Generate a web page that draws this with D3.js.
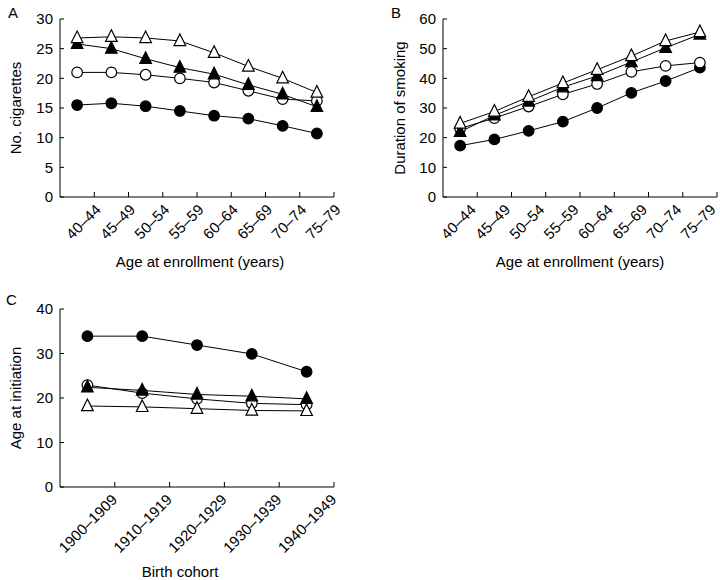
<!DOCTYPE html>
<html><head><meta charset="utf-8">
<script src="https://cdn.jsdelivr.net/npm/d3@7"></script>
<style>body{margin:0;background:#fff}svg{display:block;font-family:"Liberation Sans",Arial,sans-serif}</style>
</head><body><svg id="c" width="720" height="580"></svg>
<script>
const ageGroups = ["40–44","45–49","50–54","55–59","60–64","65–69","70–74","75–79"];
const cohorts = ["1900–1909","1910–1919","1920–1929","1930–1939","1940–1949"];
// series: filled circle, open circle, filled triangle, open triangle
const cigFilledCircle = [15.5,15.8,15.3,14.5,13.7,13.2,12.0,10.7];
const cigOpenCircle   = [21.0,21.0,20.6,20.0,19.3,17.9,16.5,16.2];
const cigFilledTri    = [25.8,25.0,23.3,21.8,20.7,18.9,17.3,15.2];
const cigOpenTri      = [26.8,27.0,26.8,26.3,24.3,22.0,20.0,17.6];
const durFilledCircle = [17.3,19.4,22.3,25.4,30.0,35.1,39.1,43.6];
const durOpenCircle   = [23.1,26.6,30.5,34.6,38.1,42.2,44.2,45.3];
const durFilledTri    = [22.0,27.5,32.2,37.0,40.8,45.5,50.3,54.8];
const durOpenTri      = [24.8,28.8,33.8,38.4,42.9,47.5,52.6,55.6];
const iniFilledCircle = [33.9,33.9,31.9,29.9,25.9];
const iniOpenCircle   = [22.9,21.1,19.8,18.8,18.5];
const iniFilledTri    = [22.4,21.7,20.8,20.4,19.8];
const iniOpenTri      = [18.2,18.0,17.6,17.2,17.1];
const yTicksA = [0,5,10,15,20,25,30];
const yTicksB = [0,10,20,30,40,50,60];
const yTicksC = [0,10,20,30,40];

const svg = d3.select("#c");
const FS = 15;

function panel(o){
  const g = svg.append("g");
  const x = d3.scaleBand().domain(o.cats).range([o.x0,o.x1]);
  const y = d3.scaleLinear().domain([0,o.ymax]).range([o.yb,o.yt]);
  g.append("line").attr("x1",o.x0).attr("x2",o.x0).attr("y1",o.yt).attr("y2",o.yb).attr("stroke","#000");
  g.append("line").attr("x1",o.x0).attr("x2",o.x1).attr("y1",o.yb).attr("y2",o.yb).attr("stroke","#000");
  o.yticks.forEach(t=>{
    g.append("line").attr("x1",o.x0).attr("x2",o.x0+4).attr("y1",y(t)).attr("y2",y(t)).attr("stroke","#000");
    g.append("text").attr("x",o.x0-7).attr("y",y(t)).attr("dy","0.35em").attr("text-anchor","end")
      .attr("font-size",FS).text(t);
  });
  o.cats.forEach(c=>{
    const xb = x(c)+x.bandwidth();
    g.append("line").attr("x1",xb).attr("x2",xb).attr("y1",o.yb).attr("y2",o.yb-5).attr("stroke","#000");
    const xc = x(c)+x.bandwidth()/2+o.lblOff;
    g.append("text").attr("transform",`translate(${xc},${o.yb+10}) rotate(-45)`)
      .attr("text-anchor","end").attr("dy","0.35em").attr("font-size",FS).text(c);
  });
  g.append("text").attr("transform",`translate(${o.yTitleX},${(o.yt+o.yb)/2}) rotate(-90)`)
    .attr("text-anchor","middle").attr("dy","0.35em").attr("font-size",FS).text(o.yTitle);
  g.append("text").attr("x",o.xTitleX).attr("y",o.xTitleY).attr("text-anchor","middle")
    .attr("font-size",FS).text(o.xTitle);
  g.append("text").attr("x",o.lx).attr("y",o.ly).attr("font-size",15).text(o.letter);
  const line = d3.line().x((d,i)=>x(o.cats[i])+x.bandwidth()/2).y(d=>y(d));
  o.series.forEach(s=>{
    g.append("path").attr("d",line(s.v)).attr("fill","none").attr("stroke","#000").attr("stroke-width",1);
  });
  o.series.forEach(s=>{
    s.v.forEach((d,i)=>{
      const cx = x(o.cats[i])+x.bandwidth()/2, cy = y(d);
      if(s.shape==="circle"){
        g.append("circle").attr("cx",cx).attr("cy",cy).attr("r",5.3)
          .attr("fill",s.fill?"#000":"#fff").attr("stroke","#000").attr("stroke-width",1.2);
      } else {
        g.append("path").attr("transform",`translate(${cx},${cy})`)
          .attr("d","M0,-7L5.8,4.6L-5.8,4.6Z")
          .attr("fill",s.fill?"#000":"#fff").attr("stroke","#000").attr("stroke-width",1.2);
      }
    });
  });
}

panel({cats:ageGroups,x0:60,x1:334,yb:197,yt:19,ymax:30,yticks:yTicksA,lblOff:21,
  yTitle:"No. cigarettes",yTitleX:16,xTitle:"Age at enrollment (years)",xTitleX:200,xTitleY:267,
  letter:"A",lx:8,ly:18,
  series:[{v:cigFilledCircle,shape:"circle",fill:true},{v:cigOpenCircle,shape:"circle",fill:false},
          {v:cigFilledTri,shape:"tri",fill:true},{v:cigOpenTri,shape:"tri",fill:false}]});
panel({cats:ageGroups,x0:443,x1:717,yb:197,yt:19,ymax:60,yticks:yTicksB,lblOff:13,
  yTitle:"Duration of smoking",yTitleX:400,xTitle:"Age at enrollment (years)",xTitleX:580,xTitleY:267,
  letter:"B",lx:391,ly:18,
  series:[{v:durFilledCircle,shape:"circle",fill:true},{v:durOpenCircle,shape:"circle",fill:false},
          {v:durFilledTri,shape:"tri",fill:true},{v:durOpenTri,shape:"tri",fill:false}]});
panel({cats:cohorts,x0:60,x1:334,yb:487,yt:309,ymax:40,yticks:yTicksC,lblOff:27,
  yTitle:"Age at initiation",yTitleX:16,xTitle:"Birth cohort",xTitleX:180,xTitleY:577,
  letter:"C",lx:6,ly:305,
  series:[{v:iniFilledCircle,shape:"circle",fill:true},{v:iniOpenCircle,shape:"circle",fill:false},
          {v:iniFilledTri,shape:"tri",fill:true},{v:iniOpenTri,shape:"tri",fill:false}]});
</script></body></html>
